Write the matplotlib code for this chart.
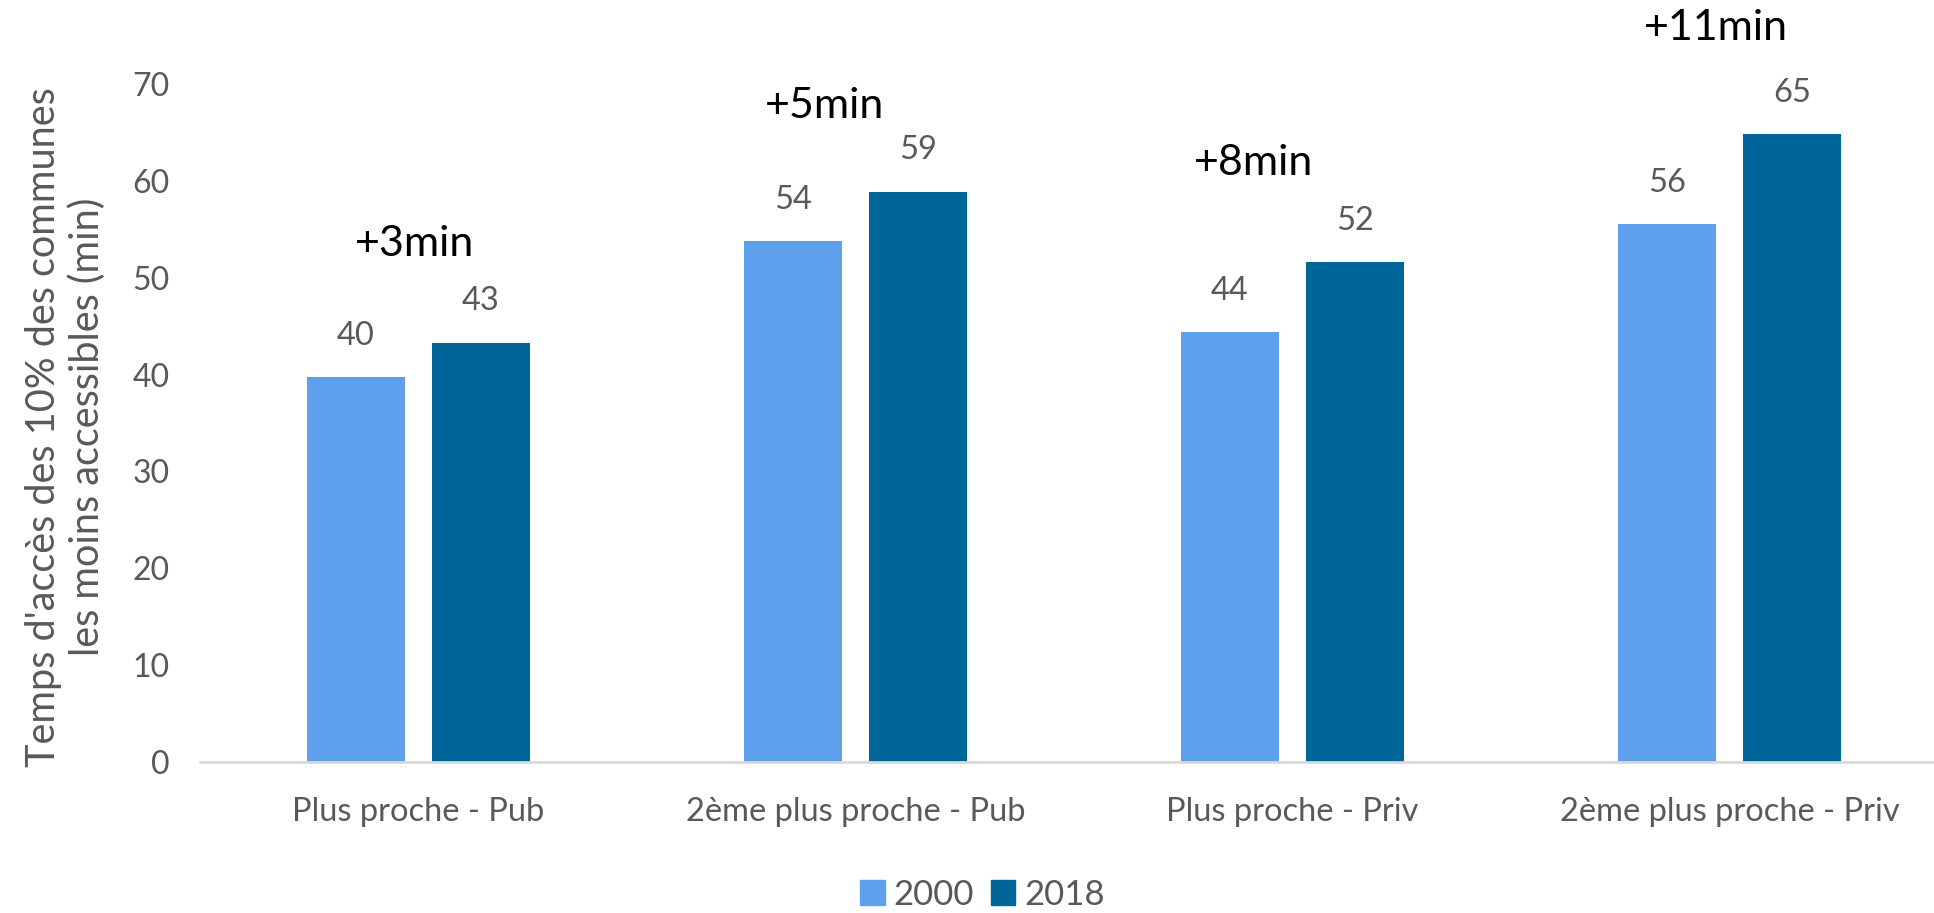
import numpy as np
import matplotlib.pyplot as plt
from matplotlib.patches import Patch

plt.rcParams['font.family'] = ['Lato', 'DejaVu Sans']

categories = ["Plus proche - Pub", "2ème plus proche - Pub",
              "Plus proche - Priv", "2ème plus proche - Priv"]
years = ["2000", "2018"]
vals_2000 = [39.7, 53.8, 44.4, 55.5]
vals_2018 = [43.3, 58.9, 51.6, 64.8]
labels_2000 = ["40", "54", "44", "56"]
labels_2018 = ["43", "59", "52", "65"]
gains = ["+3min", "+5min", "+8min", "+11min"]
gain_y = [53.5, 67.7, 61.8, 75.8]
gain_dx = [-0.01, -0.07, -0.09, -0.03]

c2000 = "#5FA0EC"
c2018 = "#006699"
grey = "#595959"

fig = plt.figure(figsize=(19.34, 9.13), dpi=100)
ax = fig.add_axes([200 / 1934, 1 - 762 / 913, 1 - 200 / 1934, (762 - 84) / 913])

x = np.arange(len(categories))
w = 0.224
off = 0.143
b1 = ax.bar(x - off, vals_2000, w, color=c2000)
b2 = ax.bar(x + off, vals_2018, w, color=c2018)

for bars, labs in [(b1, labels_2000), (b2, labels_2018)]:
    for b, lab in zip(bars, labs):
        ax.annotate(lab, (b.get_x() + b.get_width() / 2, b.get_height()),
                    xytext=(0, 19), textcoords="offset points",
                    ha="center", va="bottom", fontsize=23.5, color=grey)

for i, (g, gy, dx) in enumerate(zip(gains, gain_y, gain_dx)):
    ax.text(i + dx, gy, g, ha="center", va="center", fontsize=31,
            color="black", clip_on=False)

ax.set_ylim(0, 70)
ax.set_xlim(-0.5, -0.5 + 1734 / 437)
ax.set_yticks(range(0, 71, 10))
ax.set_xticks(x)
ax.set_xticklabels(categories)
ax.tick_params(axis="y", length=0, pad=22, labelsize=23, labelcolor=grey)
ax.tick_params(axis="x", length=0, pad=25, labelsize=23.5, labelcolor=grey)
for s in ["top", "right", "left"]:
    ax.spines[s].set_visible(False)
ax.spines["bottom"].set_color("#D9D9D9")
ax.spines["bottom"].set_linewidth(2)

fig.text(0.034, 0.532, "Temps d'accès des 10% des communes\nles moins accessibles (min)",
         rotation=90, ha="center", va="center", multialignment="center",
         fontsize=28.5, color=grey, linespacing=1.2)

handles = [Patch(color=c2000), Patch(color=c2018)]
fig.legend(handles, years, loc="center", bbox_to_anchor=(0.508, 0.02),
           ncol=2, frameon=False, fontsize=25, labelcolor=grey,
           handlelength=0.7, handleheight=0.7, handletextpad=0.25, columnspacing=0.5)

fig.savefig("out.png", dpi=100)
